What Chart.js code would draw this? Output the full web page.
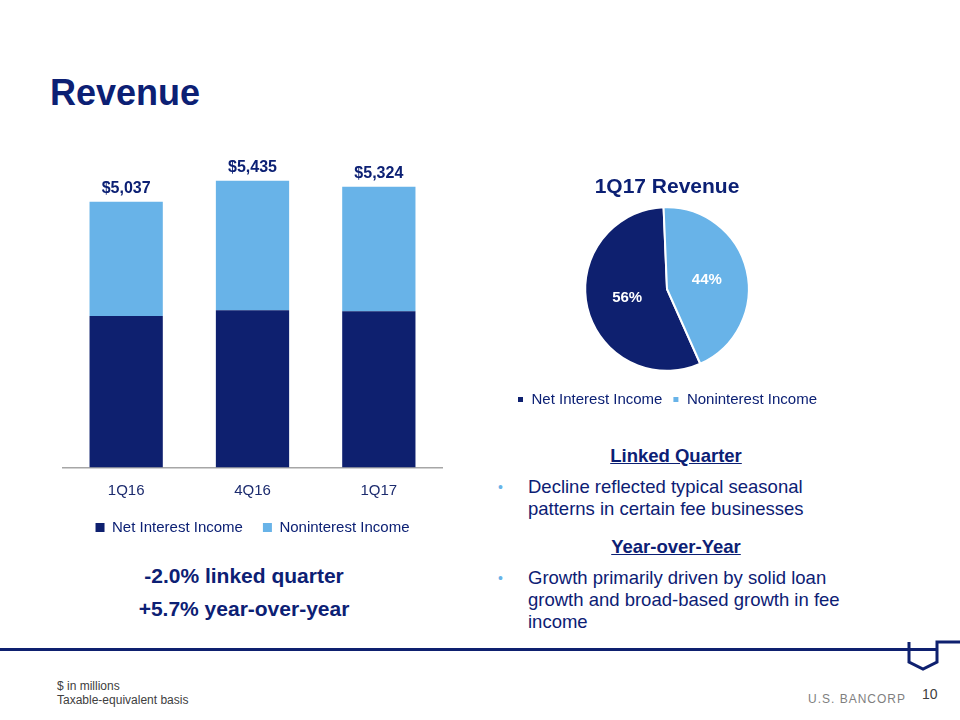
<!DOCTYPE html>
<html>
  <head>
    <title>Revenue</title>
    <meta charset="UTF-8">
    <script src="https://cdn.jsdelivr.net/npm/chart.js@4.4.0/dist/chart.umd.min.js"></script>
    <style type="text/css">
      body { margin: 0; background: #fff; font-family: "Liberation Sans", Arial, sans-serif; color: #0c2074; }
      .page { position: relative; width: 960px; height: 720px; overflow: hidden; }
      .abs { position: absolute; white-space: nowrap; }
      h1 { position: absolute; left: 50px; top: 71px; margin: 0; font-size: 36px; font-weight: bold; line-height: 44px; }
      .big { font-size: 21px; font-weight: bold; line-height: 25px; text-align: center; width: 300px; }
      .head { font-size: 18.5px; font-weight: bold; text-decoration: underline; text-align: center; width: 392px; line-height: 22px; }
      .body { font-size: 18.5px; line-height: 22px; }
      .dot { font-size: 14px; color: #68b3e8; line-height: 22px; }
      .foot { font-family: "Liberation Sans Narrow", "Arial Narrow", "Liberation Sans", sans-serif; font-size: 12px; color: #404040; line-height: 14px; }
    </style>
    <script type="text/javascript">
      // values ($ in millions)
      const quarters = ["1Q16", "4Q16", "1Q17"]
      const netInterest = [2870, 2980, 2962]
      const nonInterest = [2167, 2455, 2362]

      const pieLabels = ["Net Interest Income", "Noninterest Income"]
      const pieShares = [56, 44]

      const navy = "#0e206f"
      const sky = "#68b3e8"
      const textNavy = "#0c2074"
    </script>
  </head>
  <body>
    <div class="page">
      <h1>Revenue</h1>

      <!-- stacked bars -->
      <canvas id="bar-chart" class="abs" width="395" height="405" style="left:55px; top:140px;"></canvas>

      <div class="abs big" style="left:94px; top:563px;">-2.0% linked quarter</div>
      <div class="abs big" style="left:94px; top:596px;">+5.7% year-over-year</div>

      <!-- pie -->
      <canvas id="pie-chart" class="abs" width="340" height="254" style="left:497px; top:163px;"></canvas>

      <!-- commentary -->
      <div class="abs head" style="left:480px; top:445px;">Linked Quarter</div>
      <div class="abs dot" style="left:498px; top:476px;">&#8226;</div>
      <div class="abs body" style="left:528px; top:476px;">Decline reflected typical seasonal<br>patterns in certain fee businesses</div>

      <div class="abs head" style="left:480px; top:536px;">Year-over-Year</div>
      <div class="abs dot" style="left:498px; top:567px;">&#8226;</div>
      <div class="abs body" style="left:528px; top:567px;">Growth primarily driven by solid loan<br>growth and broad-based growth in fee<br>income</div>

      <!-- footer -->
      <div class="abs" style="left:0; top:648px; width:938px; height:3px; background:#0e206f;"></div>
      <svg class="abs" style="left:900px; top:636px;" width="60" height="40">
        <path d="M9,6 V26 L23,33 L37,26 V6 H60" fill="none" stroke="#0e206f" stroke-width="3" />
      </svg>
      <div class="abs foot" style="left:57px; top:679px;">$ in millions<br>Taxable-equivalent basis</div>
      <div class="abs foot" style="left:808px; top:692px; color:#7f7f7f; letter-spacing:1px;">U.S. BANCORP</div>
      <div class="abs foot" style="left:922px; top:687px; font-size:14px; color:#404040;">10</div>
    </div>

    <script type="text/javascript">
      const fontFamily = '"Liberation Sans", Arial, sans-serif'

      // totals above each stacked bar
      const totalLabels = {
        id: "totalLabels",
        afterDatasetsDraw(chart) {
          const ctx = chart.ctx
          const top = chart.getDatasetMeta(1)
          ctx.save()
          ctx.font = "bold 16px " + fontFamily
          ctx.fillStyle = textNavy
          ctx.textAlign = "center"
          ctx.textBaseline = "middle"
          top.data.forEach((bar, i) => {
            const total = netInterest[i] + nonInterest[i]
            ctx.fillText("$" + total.toLocaleString("en-US"), bar.x, bar.y - 13)
          })
          ctx.restore()
        }
      }

      new Chart(document.getElementById("bar-chart"), {
        type: "bar",
        data: {
          labels: quarters,
          datasets: [
            { label: "Net Interest Income", data: netInterest, backgroundColor: navy },
            { label: "Noninterest Income", data: nonInterest, backgroundColor: sky }
          ]
        },
        options: {
          responsive: false,
          animation: false,
          layout: { padding: { left: 8, right: 8, top: 11, bottom: 0 } },
          datasets: { bar: { categoryPercentage: 1, barPercentage: 0.58 } },
          scales: {
            x: {
              stacked: true,
              grid: { display: false, drawTicks: false },
              border: { display: true, color: "#a6a6a6", width: 1.5 },
              ticks: { color: "#1c2b6e", font: { size: 15, family: fontFamily }, padding: 14 },
              afterFit: scale => { scale.height = 32.5 }
            },
            y: { stacked: true, display: false, min: 0, max: 6000 }
          },
          plugins: {
            legend: {
              position: "bottom",
              labels: {
                boxWidth: 9, boxHeight: 9, padding: 20,
                color: textNavy, font: { size: 15, family: fontFamily }
              }
            },
            tooltip: { enabled: false }
          }
        },
        plugins: [totalLabels]
      })

      // percentages inside the slices
      const sliceLabels = {
        id: "sliceLabels",
        afterDatasetsDraw(chart) {
          const ctx = chart.ctx
          ctx.save()
          ctx.font = "bold 15px " + fontFamily
          ctx.fillStyle = "#ffffff"
          ctx.textAlign = "center"
          ctx.textBaseline = "middle"
          chart.getDatasetMeta(0).data.forEach((arc, i) => {
            const p = arc.tooltipPosition()
            ctx.fillText(pieShares[i] + "%", p.x, p.y)
          })
          ctx.restore()
        }
      }

      new Chart(document.getElementById("pie-chart"), {
        type: "pie",
        data: {
          labels: pieLabels,
          datasets: [{
            data: pieShares,
            backgroundColor: [navy, sky],
            borderColor: "#ffffff",
            borderWidth: 2
          }]
        },
        options: {
          responsive: false,
          animation: false,
          rotation: 156,
          plugins: {
            title: {
              display: true,
              text: "1Q17 Revenue",
              color: textNavy,
              font: { size: 21, weight: "bold", family: fontFamily },
              padding: { top: 12, bottom: 6 }
            },
            legend: {
              position: "bottom",
              title: { display: true, text: "", font: { size: 1 }, padding: { top: 9, bottom: 0 } },
              labels: {
                boxWidth: 7, boxHeight: 7, padding: 10,
                color: textNavy, font: { size: 15, family: fontFamily }
              }
            },
            tooltip: { enabled: false }
          }
        },
        plugins: [sliceLabels]
      })
    </script>
  </body>
</html>
